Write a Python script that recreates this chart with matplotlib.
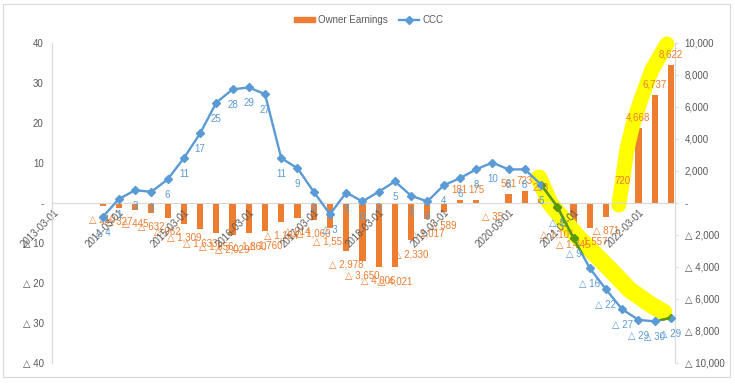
import numpy as np
import pandas as pd
import matplotlib
matplotlib.use('Agg')
import matplotlib.pyplot as plt
from matplotlib.patches import Rectangle, Patch
from matplotlib.lines import Line2D
from matplotlib.path import Path
from matplotlib.transforms import IdentityTransform

plt.rcParams['font.family'] = ['Liberation Sans', 'DejaVu Sans']

# quarterly categories, 2013-03-01 .. 2022-09-01
dates = list(pd.date_range('2013-03-01', periods=39, freq='QS-MAR').strftime('%Y-%m-%d'))
nan = np.nan
owner_earnings = [nan, nan, nan,
                  -210, -327, -445, -632, -962, -1309, -1633, -1856, -2029, -1860,
                  -1760, -1184, -914, -1060, -1553, -2978, -3650, -4006, -4021, -2330,
                  -1017, -589, 181, 175, -35, 561, 723, 258, -1101, -1745, -1557,
                  -871, 720, 4668, 6737, 8622]
ccc = [nan, nan, nan,
       -3.5, 1.0, 3.2, 2.8, 5.9, 11.2, 17.4, 25.1, 28.4, 28.9, 27.2, 11.2, 8.7,
       2.8, -2.8, 2.6, 0.4, 2.8, 5.4, 1.8, 0.4, 4.4, 6.2, 8.4, 10.1, 8.4, 8.4,
       4.6, -0.9, -8.8, -16.3, -21.6, -26.6, -29.2, -29.6, -28.7]

# hand-drawn highlighter strokes (category index, CCC scale)
hl_low_x = [29.87, 30.54, 32.27, 34.17, 35.47, 36.88, 37.56]
hl_low_y = [6.25, 0.0, -8.5, -16.25, -21.75, -25.75, -27.25]
hl_up_x = [34.79, 35.04, 35.28, 35.65, 36.14, 36.82, 37.75]
hl_up_y = [-0.5, 6.25, 13.25, 19.5, 25.75, 33.25, 39.75]

ORANGE = '#ED7D31'
BLUE = '#5B9BD5'
GREEN = '#5B9B00'
YELLOW = '#FFFF00'
GRAY = '#595959'
LINE = '#D9D9D9'


def fmt(v):
    if v == 0:
        return '-'
    if v > 0:
        return f'{v:,.0f}'
    return f'△ {-v:,.0f}'


W, H = 735, 384
fig = plt.figure(figsize=(W / 100, H / 100), dpi=100)
ax = fig.add_axes([52 / W, 21 / H, 623 / W, 320 / H])
ax2 = ax.twinx()
ax.set_zorder(ax2.get_zorder() + 1)
ax.patch.set_visible(False)

x = np.arange(len(dates))
ax.set_xlim(-0.12, 38.25)
ax.set_ylim(-40, 40)
ax2.set_ylim(-10000, 10000)

# bars
ax2.bar(x, owner_earnings, width=0.38, color=ORANGE, zorder=2)
for i, v in enumerate(owner_earnings):
    if np.isnan(v):
        continue
    off = 7.5 if v >= 0 else -10
    ax2.annotate(fmt(v), (i, v), xytext=(0, off), textcoords='offset points',
                 ha='center', va='center', fontsize=7, color=ORANGE, zorder=6)

# highlighter
for hx, hy, lw in [(hl_low_x, hl_low_y, 12.2), (hl_up_x, hl_up_y, 10.8)]:
    ax2.add_line(Line2D(hx, hy, transform=ax.transData, color=YELLOW, lw=lw,
                        solid_capstyle='round', solid_joinstyle='round',
                        zorder=4, clip_on=False))

# CCC line
LW, MS = 1.7, 4.4
ax.plot(x, ccc, color=BLUE, lw=LW, marker='D', ms=MS, zorder=5)
for i, v in enumerate(ccc):
    if np.isnan(v):
        continue
    ax.annotate(fmt(v), (i, v), xytext=(0, -11.5), textcoords='offset points',
                ha='center', va='center', fontsize=7, color=BLUE, zorder=6)

# line looks green where it runs under the yellow stroke
pts = ax.transData.transform(np.c_[hl_low_x, hl_low_y])
half = 12.2 * 100 / 72 / 2
d = np.diff(pts, axis=0)
d = d / np.linalg.norm(d, axis=1)[:, None]
seg_n = np.c_[-d[:, 1], d[:, 0]]
vn = np.vstack([seg_n[0], (seg_n[:-1] + seg_n[1:]) / 2, seg_n[-1]])
vn = vn / np.linalg.norm(vn, axis=1)[:, None]
pts_ext = pts.copy()
pts_ext[0] -= d[0] * half
pts_ext[-1] += d[-1] * half
poly = np.vstack([pts_ext + vn * half, (pts_ext - vn * half)[::-1]])
green, = ax.plot(x, ccc, color=GREEN, lw=LW, marker='D', ms=MS, zorder=5.5)
green.set_clip_path(Path(poly, closed=True), IdentityTransform())

# axes styling
for s in ['top', 'right']:
    ax.spines[s].set_visible(False)
ax.spines['left'].set_color(LINE)
ax.spines['bottom'].set_position(('data', 0))
ax.spines['bottom'].set_color(LINE)
for s in ['top', 'left', 'bottom']:
    ax2.spines[s].set_visible(False)
ax2.spines['right'].set_color(LINE)

ax.set_yticks(range(-40, 41, 10))
ax.set_yticklabels([fmt(v) for v in range(-40, 41, 10)])
ax.tick_params(axis='y', length=0, pad=6, labelsize=7, labelcolor=GRAY)
ax2.set_yticks(range(-10000, 10001, 2000))
ax2.set_yticklabels([fmt(v) for v in range(-10000, 10001, 2000)])
ax2.tick_params(axis='y', length=2, color=LINE, pad=5, labelsize=7, labelcolor=GRAY)

ax.set_xticks(x[::4])
ax.set_xticklabels(dates[::4], rotation=45, ha='right', va='top',
                   rotation_mode='anchor')
ax.tick_params(axis='x', length=0, pad=3, labelsize=7, labelcolor=GRAY)

handles = [Patch(color=ORANGE, label='Owner Earnings'),
           Line2D([], [], color=BLUE, lw=LW, marker='D', ms=MS, label='CCC')]
fig.legend(handles=handles, loc='center', bbox_to_anchor=(369 / W, 1 - 20 / H),
           ncol=2, frameon=False, fontsize=7, labelcolor=GRAY,
           handlelength=2.1, handleheight=0.45, handletextpad=0.35,
           columnspacing=1.1)

fig.add_artist(Rectangle((3 / W, 1 - 377 / H), 727 / W, 373 / H,
                         transform=fig.transFigure, fill=False,
                         ec=LINE, lw=0.8))

fig.savefig('out.png', dpi=100)
